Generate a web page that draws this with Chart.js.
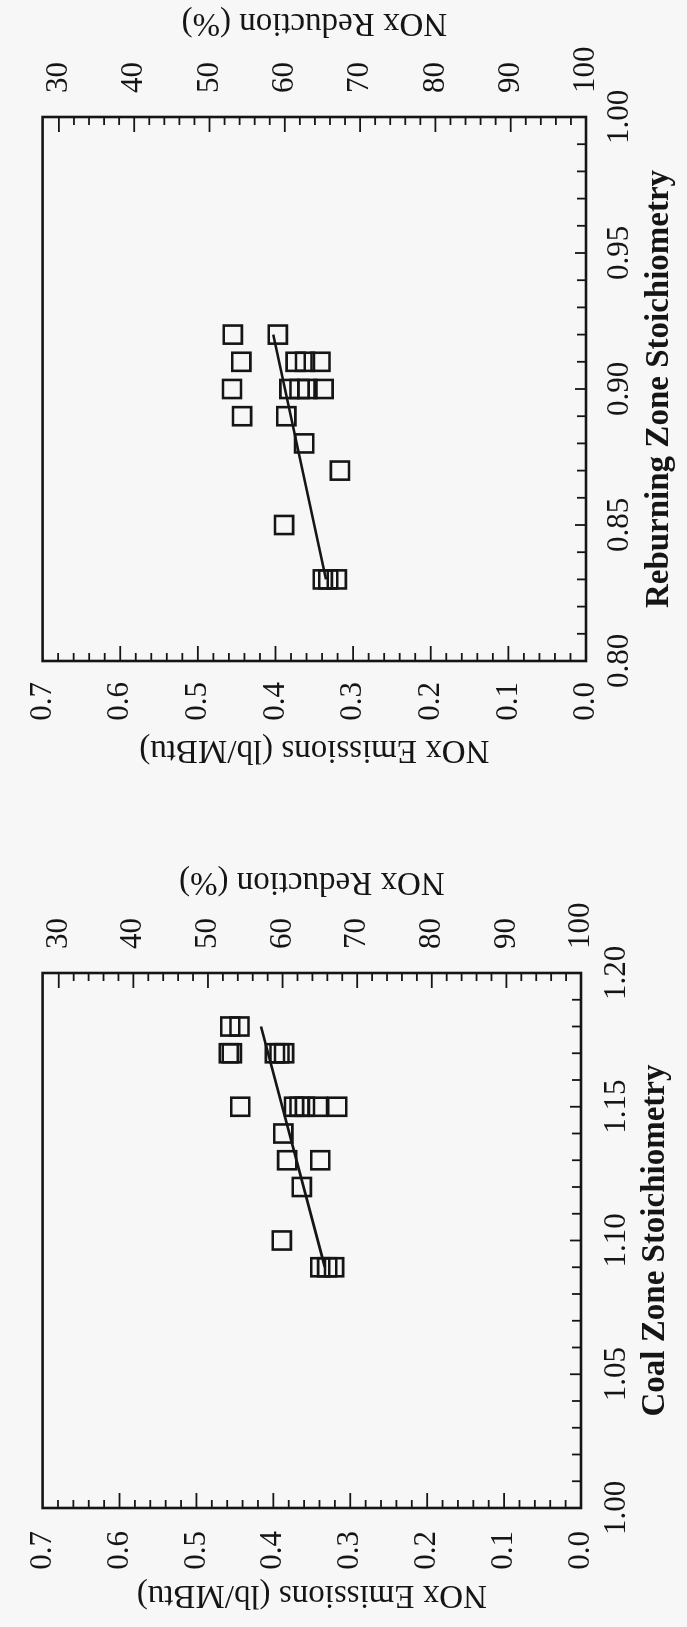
<!DOCTYPE html>
<html>
<head>
<meta charset="utf-8">
<script src="https://cdn.jsdelivr.net/npm/chart.js@4.4.1/dist/chart.umd.min.js"></script>
<style>
  html, body { margin:0; padding:0; background:#f7f7f7; }
  body { width:687px; height:1627px; overflow:hidden; position:relative; }
  .panel { position:absolute; left:0; width:800px; height:687px; transform-origin:0 0; transform:translate(0px, 800px) rotate(-90deg); }
  canvas { display:block; }
</style>
</head>
<body>
<div class="panel" style="top:0px;"><canvas id="reburn" width="800" height="687"></canvas></div>
<div class="panel" style="top:827px;"><canvas id="coal" width="800" height="687"></canvas></div>
<script>
// ---------------- data ----------------
const reburnStoich = [0.92, 0.92, 0.91, 0.91, 0.91, 0.91, 0.90, 0.90, 0.90, 0.90, 0.90, 0.89, 0.89, 0.88, 0.87, 0.85, 0.83, 0.83, 0.83];
const reburnNOx    = [0.455, 0.397, 0.444, 0.374, 0.362, 0.342, 0.456, 0.382, 0.369, 0.359, 0.338, 0.443, 0.386, 0.363, 0.317, 0.389, 0.339, 0.332, 0.321];
const reburnFitStoich = [0.83, 0.92];
const reburnFitNOx    = [0.335, 0.403];

const coalStoich = [1.18, 1.18, 1.17, 1.17, 1.17, 1.17, 1.17, 1.15, 1.15, 1.15, 1.15, 1.15, 1.15, 1.14, 1.13, 1.13, 1.12, 1.10, 1.09, 1.09, 1.09];
const coalNOx    = [0.456, 0.444, 0.458, 0.454, 0.398, 0.392, 0.386, 0.443, 0.373, 0.366, 0.359, 0.342, 0.317, 0.387, 0.382, 0.339, 0.363, 0.389, 0.339, 0.330, 0.321];
const coalFitStoich = [1.09, 1.18];
const coalFitNOx    = [0.333, 0.416];

const noxTicks = [0.0, 0.1, 0.2, 0.3, 0.4, 0.5, 0.6, 0.7];
const reductionTicks = [30, 40, 50, 60, 70, 80, 90, 100];
const reburnStoichTicks = [0.80, 0.85, 0.90, 0.95, 1.00];
const coalStoichTicks = [1.00, 1.05, 1.10, 1.15, 1.20];
const baselineNOx = 0.97;   // lb/MBtu at 0 % reduction
const noxMax = 0.7;

const titles = {
  nox: 'NOx Emissions (lb/MBtu)',
  reduction: 'NOx Reduction (%)',
  reburn: 'Reburning Zone Stoichiometry',
  coal: 'Coal Zone Stoichiometry'
};

// ---------------- drawing ----------------
const INK = '#151515';
const FONT = 'Liberation Serif';
const W = 800, H = 687;
Chart.defaults.font.family = FONT;
Chart.defaults.color = INK;

function seg(ctx, x1, y1, x2, y2) { ctx.beginPath(); ctx.moveTo(x1, y1); ctx.lineTo(x2, y2); ctx.stroke(); }
function text(ctx, s, x, y, rot, font) {
  ctx.save(); ctx.translate(x, y); ctx.rotate(rot);
  ctx.font = font; ctx.fillStyle = INK; ctx.textAlign = 'center'; ctx.textBaseline = 'middle';
  ctx.fillText(s, 0, 0); ctx.restore();
}

const framePlugin = {
  id: 'frame',
  afterDraw(chart, args, o) {
    const { ctx, chartArea: a, scales } = chart;
    ctx.save();
    ctx.strokeStyle = INK;
    ctx.lineWidth = 2.6;
    ctx.strokeRect(a.left, a.top, a.right - a.left, a.bottom - a.top);
    ctx.lineWidth = 1.8;
    // NOx emission ticks (left)
    for (let k = 1; k < 35; k++) {
      const v = k * 0.02, p = scales.y.getPixelForValue(v);
      seg(ctx, a.left, p, a.left + (k % 5 === 0 ? 15 : 8), p);
    }
    // reduction ticks (right)
    for (let v = 30; v < 100; v += 2) {
      const p = scales.y2.getPixelForValue(v);
      seg(ctx, a.right, p, a.right - (v % 10 === 0 ? 15 : 8), p);
    }
    // stoichiometry ticks (bottom)
    for (let k = 1; k < 20; k++) {
      const v = o.xmin + k * 0.01, p = scales.x.getPixelForValue(v);
      seg(ctx, p, a.bottom, p, a.bottom - (k % 5 === 0 ? 11 : 9));
    }
    ctx.restore();
    const cv = (a.top + a.bottom) / 2, cu = (a.left + a.right) / 2;
    text(ctx, titles.nox, o.noxTitleU, cv, -Math.PI / 2, '33px "' + FONT + '"');
    text(ctx, titles.reduction, o.redTitleU, cv, -Math.PI / 2, '33px "' + FONT + '"');
    text(ctx, o.xTitle, cu, o.xTitleV, 0, 'bold 33px "' + FONT + '"');
  }
};

function makeChart(id, stoich, nox, fitS, fitN, xTicks, g) {
  const xmin = xTicks[0], xmax = xTicks[xTicks.length - 1];
  const tickFont = { size: 31, family: FONT };
  return new Chart(document.getElementById(id), {
    type: 'scatter',
    data: {
      datasets: [
        { data: stoich.map((s, i) => ({ x: s, y: nox[i] })), pointStyle: 'rect', pointRadius: 12.8, pointHoverRadius: 12.8,
          pointBorderWidth: 2.6, pointBorderColor: INK, pointBackgroundColor: 'rgba(0,0,0,0)', showLine: false },
        { data: fitS.map((s, i) => ({ x: s, y: fitN[i] })), showLine: true, borderColor: INK, borderWidth: 2.6,
          pointRadius: 0, fill: false }
      ]
    },
    options: {
      responsive: false, animation: false, devicePixelRatio: 1, events: [],
      layout: { padding: { top: g.top, left: 0, right: 0, bottom: 0 } },
      plugins: { legend: { display: false }, tooltip: { enabled: false },
        frame: { xmin, noxTitleU: g.noxTitleU, redTitleU: g.redTitleU, xTitleV: g.xTitleV, xTitle: g.xTitle } },
      scales: {
        x: { type: 'linear', position: 'bottom', min: xmin, max: xmax,
          grid: { display: false, drawTicks: false }, border: { display: false },
          ticks: { padding: g.xPad, font: tickFont, color: INK, maxRotation: 0, autoSkip: false, callback: v => Number(v).toFixed(2) },
          afterBuildTicks: s => { s.ticks = xTicks.map(v => ({ value: v })); },
          afterFit: s => { s.height = H - g.bottom; } },
        y: { type: 'linear', position: 'left', min: 0, max: noxMax,
          grid: { display: false, drawTicks: false }, border: { display: false },
          ticks: { padding: g.yPad, font: tickFont, color: INK, autoSkip: false, callback: v => Number(v).toFixed(1) },
          afterBuildTicks: s => { s.ticks = noxTicks.map(v => ({ value: v })); },
          afterFit: s => { s.width = g.left; } },
        y2: { type: 'linear', position: 'right', reverse: true,
          min: 100 * (1 - noxMax / baselineNOx), max: 100,
          grid: { display: false, drawTicks: false }, border: { display: false },
          ticks: { padding: g.y2Pad, font: tickFont, color: INK, autoSkip: false, callback: v => String(Math.round(v)) },
          afterBuildTicks: s => { s.ticks = reductionTicks.map(v => ({ value: v })); },
          afterFit: s => { s.width = W - g.right; } }
      }
    },
    plugins: [framePlugin]
  });
}

makeChart('reburn', reburnStoich, reburnNOx, reburnFitStoich, reburnFitNOx, reburnStoichTicks,
  { left: 139, right: 683, top: 28, bottom: 586, xPad: 15, yPad: 21, y2Pad: 24,
    noxTitleU: 50, redTitleU: 777, xTitleV: 659, xTitle: titles.reburn });
makeChart('coal', coalStoich, coalNOx, coalFitStoich, coalFitNOx, coalStoichTicks,
  { left: 119, right: 654, top: 33, bottom: 581, xPad: 17, yPad: 23, y2Pad: 24,
    noxTitleU: 32, redTitleU: 745, xTitleV: 655, xTitle: titles.coal });
</script>
</body>
</html>
